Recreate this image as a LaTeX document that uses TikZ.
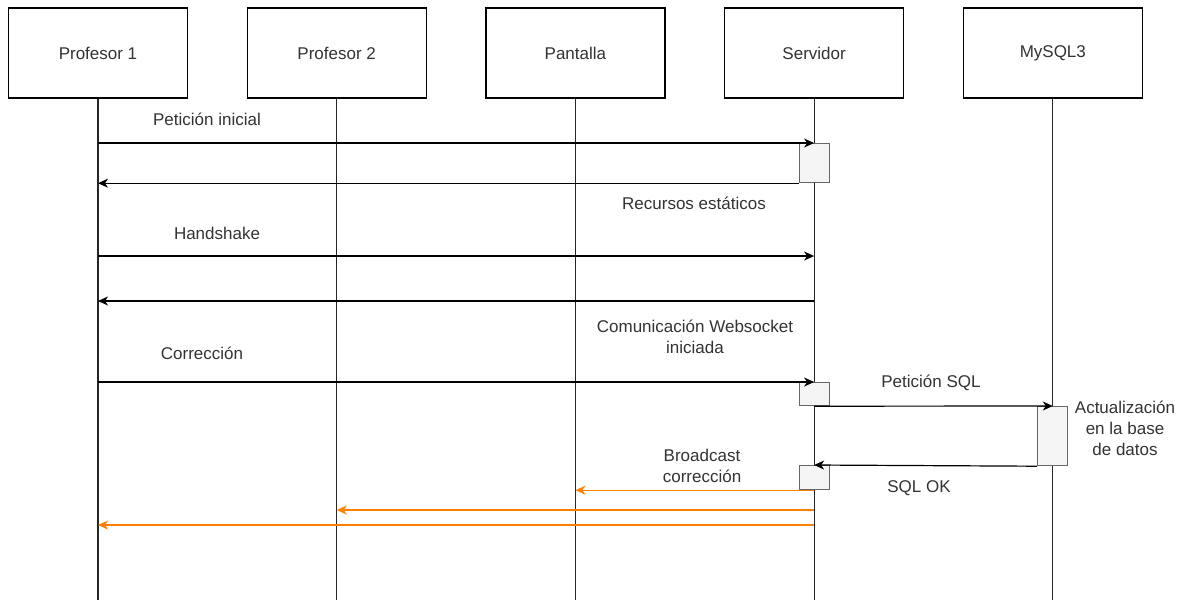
\documentclass[tikz,border=0pt]{standalone}
\usepackage{fontspec}
\setmainfont{Liberation Sans}
\usepackage{tikz}
\usetikzlibrary{positioning,arrows.meta}
\definecolor{actfill}{HTML}{F5F5F5}
\definecolor{actline}{HTML}{666666}
\definecolor{textgray}{HTML}{333333}
\definecolor{bcast}{HTML}{FF8000}

\begin{document}
\begin{tikzpicture}[x=1pt,y=-1pt,line width=1.2pt,font=\fontsize{17}{21}\selectfont,
  actor/.style={draw,minimum width=179pt,minimum height=90pt,inner sep=0pt,text=textgray},
  vida/.style={draw=black!85},
  activ/.style={draw=actline,fill=actfill,minimum width=30pt,inner sep=0pt,anchor=north},
  msg/.style={-{Stealth[length=10pt,width=9pt,inset=3pt]}},
  difu/.style={msg,draw=bcast,line width=1.4pt},
  lbl/.style={align=center,inner sep=0pt,text=textgray}]
  \useasboundingbox[fill=white] (0,0) rectangle (1190,600);
  \node[actor] (p1) at (98,53) {Profesor 1};
  \node[actor,right=58.5pt of p1] (p2) {Profesor 2};
  \node[actor,right=58.5pt of p2] (pan) {Pantalla};
  \node[actor,right=58.5pt of pan] (srv) {Servidor};
  \node[actor,right=58.5pt of srv] (db) {MySQL3};
  \foreach \n in {p1,p2,pan,srv,db} \draw[vida] (\n.south) -- (\n |- 0,600);
  % activaciones
  \node[activ,minimum height=39pt] (a1) at (srv |- 0,143) {};
  \node[activ,minimum height=23pt] (a2) at (srv |- 0,382) {};
  \node[activ,minimum height=59pt] (a3) at (db |- 0,406) {};
  \node[activ,minimum height=24pt] (a4) at (srv |- 0,465) {};
  % mensajes
  \draw[msg] (p1 |- a1.north) -- (a1.north);
  \draw[msg] (a1.south west) -- (p1 |- a1.south);
  \draw[msg] (p1 |- 0,256) -- (srv |- 0,256);
  \draw[msg] (srv |- 0,301) -- (p1 |- 0,301);
  \draw[msg] (p1 |- a2.north) -- (a2.north);
  \draw[msg] (a2.south) -- (a3.north);
  \draw[msg] (a3.south west) -- (a4.north);
  \draw[difu] (a4.south) -- (pan |- a4.south);
  \draw[difu] (srv |- 0,510) -- (p2 |- 0,510);
  \draw[difu] (srv |- 0,525) -- (p1 |- 0,525);
  % etiquetas
  \node[lbl] (l1) at (207,119) {Petición inicial};
  \node[lbl] (l2) at (694,203) {Recursos estáticos};
  \node[lbl] (l3) at (217,233) {Handshake};
  \node[lbl] (l4) at (695,337) {Comunicación Websocket\\iniciada};
  \node[lbl] (l5) at (202,353) {Corrección};
  \node[lbl] (l6) at (931,383) {Petición SQL};
  \node[lbl] (l7) at (1125,428) {Actualización\\en la base\\de datos};
  \node[lbl] (l8) at (702,466) {Broadcast\\corrección};
  \node[lbl] (l9) at (919,488) {SQL OK};
\end{tikzpicture}
\end{document}
